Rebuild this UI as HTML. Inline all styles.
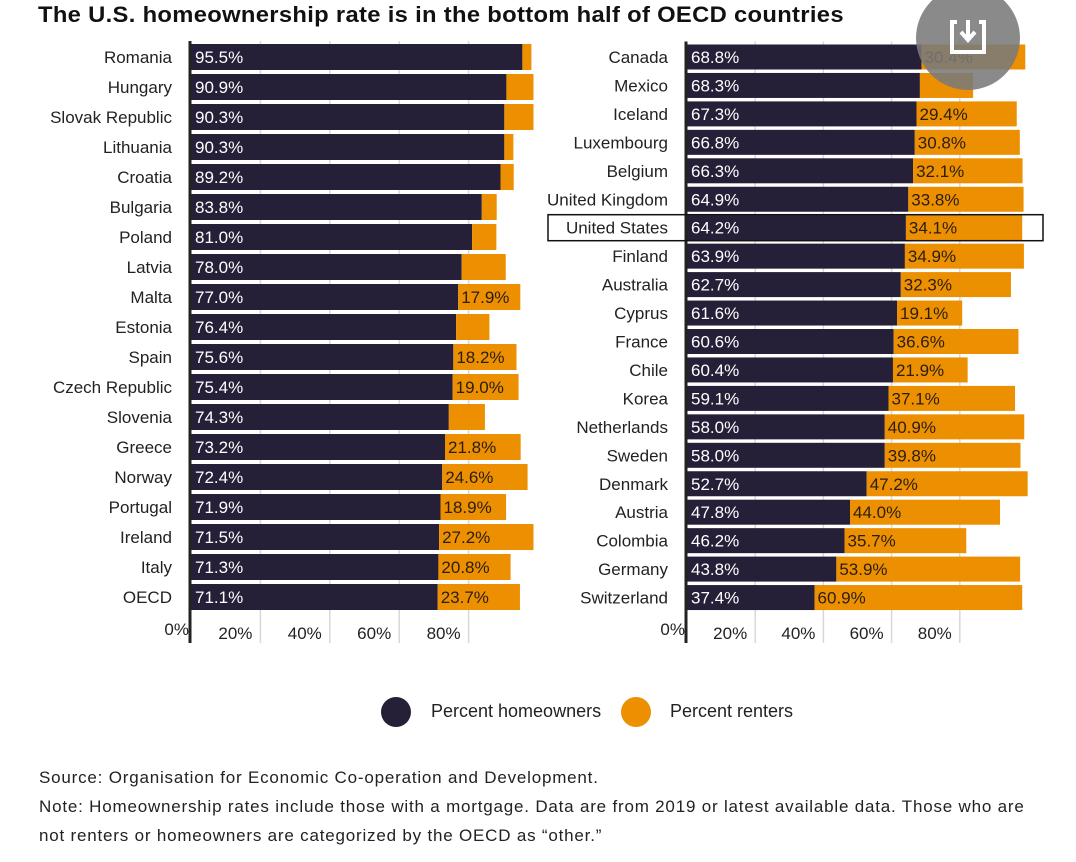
<!DOCTYPE html>
<html><head><meta charset="utf-8">
<style>
body{margin:0;background:#fff;width:1076px;height:862px;overflow:hidden;font-family:"Liberation Sans",sans-serif;}
#title{position:absolute;left:38px;top:2px;font-size:22px;font-weight:bold;color:#111;letter-spacing:0.3px;transform:scaleX(1.08);transform-origin:left top;}
.note{position:absolute;left:39px;font-size:17px;color:#222;line-height:29px;white-space:nowrap;letter-spacing:0.8px;}
svg{position:absolute;left:0;top:0;}
</style></head>
<body>
<div id="title">The U.S. homeownership rate is in the bottom half of OECD countries</div>
<svg id="chart" width="1076" height="862"></svg>
<div class="note" style="top:763px">Source: Organisation for Economic Co-operation and Development.</div>
<div class="note" style="top:792px">Note: Homeownership rates include those with a mortgage. Data are from 2019 or latest available data. Those who are<br>not renters or homeowners are categorized by the OECD as “other.”</div>
<script>
const leftCountries=["Romania","Hungary","Slovak Republic","Lithuania","Croatia","Bulgaria","Poland","Latvia","Malta","Estonia","Spain","Czech Republic","Slovenia","Greece","Norway","Portugal","Ireland","Italy","OECD"];
const leftOwners=[95.5,90.9,90.3,90.3,89.2,83.8,81.0,78.0,77.0,76.4,75.6,75.4,74.3,73.2,72.4,71.9,71.5,71.3,71.1];
const leftRenters=[2.6,7.8,8.4,2.6,3.8,4.3,7.0,12.7,17.9,9.6,18.2,19.0,10.4,21.8,24.6,18.9,27.2,20.8,23.7];
const rightCountries=["Canada","Mexico","Iceland","Luxembourg","Belgium","United Kingdom","United States","Finland","Australia","Cyprus","France","Chile","Korea","Netherlands","Sweden","Denmark","Austria","Colombia","Germany","Switzerland"];
const rightOwners=[68.8,68.3,67.3,66.8,66.3,64.9,64.2,63.9,62.7,61.6,60.6,60.4,59.1,58.0,58.0,52.7,47.8,46.2,43.8,37.4];
const rightRenters=[30.4,15.6,29.4,30.8,32.1,33.8,34.1,34.9,32.3,19.1,36.6,21.9,37.1,40.9,39.8,47.2,44.0,35.7,53.9,60.9];
const ticks=[20,40,60,80];
const tickLabels=["20%","40%","60%","80%"];
const NS="http://www.w3.org/2000/svg";
const svg=document.getElementById("chart");
function mk(tag,attrs,parent){const e=document.createElementNS(NS,tag);for(const k in attrs)e.setAttribute(k,attrs[k]);(parent||svg).appendChild(e);return e;}
function panel(cfg,cats,own,ren,name){
  const g=mk("g",{});
  
  
  const x=v=>cfg.x0+v*cfg.k;
  const y=i=>cfg.y0+i*cfg.step;
  ticks.forEach((t,i)=>{
    const l=mk("line",{x1:x(t),x2:x(t),y1:cfg.y0-cfg.h/2-3,y2:cfg.axisBottom,stroke:"#d8d8d8","stroke-width":1.5},g);
    
    
    const tx=mk("text",{x:x(t)-8,y:cfg.tickY,"text-anchor":"end","font-size":17,fill:"#222"},g);
    tx.textContent=tickLabels[i];
    
    
  });
  const z=mk("text",{x:cfg.x0-2,y:cfg.tickY-4,"text-anchor":"end","font-size":17,fill:"#222"},g);
  z.textContent="0%";
  
  
  cats.forEach((c,i)=>{
    const cy=y(i);
    const b=mk("rect",{x:x(0),y:cy-cfg.h/2,width:own[i]*cfg.k,height:cfg.h,fill:"#261f38"},g);
    
    
    const r=mk("rect",{x:x(own[i]),y:cy-cfg.h/2,width:ren[i]*cfg.k,height:cfg.h,fill:"#ec8f00"},g);
    
    
    const lab=mk("text",{x:x(0)-19,y:cy+6,"text-anchor":"end","font-size":17,fill:"#222"},g);
    lab.textContent=c;
    
    
    const v=mk("text",{x:x(0)+4,y:cy+6,"font-size":17,fill:"#fff"},g);
    v.textContent=own[i].toFixed(1)+"%";
    
    
    if(ren[i]>=17){
      const rv=mk("text",{x:x(own[i])+3,y:cy+6,"font-size":17,fill:"#2a1e10"},g);
      rv.textContent=ren[i].toFixed(1)+"%";
      
      
    }
  });
  const ax=mk("line",{x1:cfg.x0-1,x2:cfg.x0-1,y1:cfg.y0-cfg.h/2-3,y2:cfg.axisBottom,stroke:"#222","stroke-width":3},g);
  
  
  return {x,y};
}
panel({x0:191,k:3.47,y0:57,step:30,h:26,tickY:639,axisBottom:643},leftCountries,leftOwners,leftRenters,"left-panel");
const R=panel({x0:687,k:3.41,y0:57,step:28.45,h:25,tickY:639,axisBottom:643},rightCountries,rightOwners,rightRenters,"right-panel");
const usI=rightCountries.indexOf("United States");
const hl=mk("rect",{x:548,y:R.y(usI)-13,width:495,height:26,fill:"none",stroke:"#111","stroke-width":1.5});


const lg=mk("g",{});


const c1=mk("circle",{cx:396,cy:712,r:15,fill:"#261f38"},lg);


const t1=mk("text",{x:431,y:717,"font-size":18,fill:"#222"},lg);t1.textContent="Percent homeowners";


const c2=mk("circle",{cx:636,cy:712,r:15,fill:"#ec8f00"},lg);


const t2=mk("text",{x:670,y:717,"font-size":18,fill:"#222"},lg);t2.textContent="Percent renters";


const dl=mk("g",{});


mk("circle",{cx:968,cy:38,r:52,fill:"#7a7a7a","fill-opacity":0.88},dl);
mk("path",{d:"M957 22 h-5 v30 h32 v-30 h-5",fill:"none",stroke:"#fff","stroke-width":4},dl);
mk("path",{d:"M968 20 v18 M961 32 l7 8 l7 -8",fill:"none",stroke:"#fff","stroke-width":4},dl);
</script>
</body></html>
